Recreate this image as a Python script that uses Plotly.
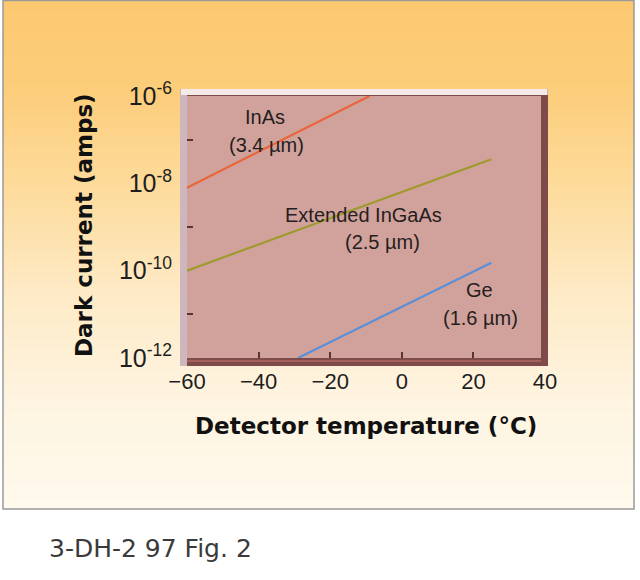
import plotly.graph_objects as go

# ---- data ----
inas_temp = [-60, -9]
inas_current = [10**-8.1, 10**-6.0]
ingaas_temp = [-60, 25]
ingaas_current = [10**-10.0, 10**-7.45]
ge_temp = [-29, 25]
ge_current = [10**-12.0, 10**-9.82]

x_ticks = [-60, -40, -20, 0, 20, 40]
y_ticks = [1e-12, 1e-10, 1e-8, 1e-6]
y_ticktext = ["10<sup>-12</sup>", "10<sup>-10</sup>", "10<sup>-8</sup>", "10<sup>-6</sup>"]
y_minor = [1e-11, 1e-9, 1e-7]

W, H = 640, 580
def px(x):
    return x / W
def py(y):
    return 1 - y / H

fig = go.Figure()
fig.add_trace(go.Scatter(x=inas_temp, y=inas_current, mode="lines",
                         line=dict(color="#E8663C", width=2.2), showlegend=False))
fig.add_trace(go.Scatter(x=ingaas_temp, y=ingaas_current, mode="lines",
                         line=dict(color="#9E9A2C", width=2.2), showlegend=False))
fig.add_trace(go.Scatter(x=ge_temp, y=ge_current, mode="lines",
                         line=dict(color="#5B8FD8", width=2.2), showlegend=False))

shapes = []
# background gradient inside the frame
stops = [(0, (252, 201, 112)), (90, (252, 205, 122)), (200, (253, 221, 160)),
         (300, (254, 235, 200)), (400, (254, 244, 224)), (510, (255, 250, 238))]
def col_at(y):
    for (y0, c0), (y1, c1) in zip(stops[:-1], stops[1:]):
        if y0 <= y <= y1:
            t = (y - y0) / (y1 - y0)
            return "rgb(%d,%d,%d)" % tuple(round(a + (b - a) * t) for a, b in zip(c0, c1))
    return "rgb(%d,%d,%d)" % stops[-1][1]
step = 4
for y in range(0, 509, step):
    shapes.append(dict(type="rect", xref="paper", yref="paper", layer="below",
                       x0=px(3), x1=px(634), y0=py(y), y1=py(min(y + step + 0.5, 509)),
                       line=dict(width=0), fillcolor=col_at(y + step / 2)))
# frame border
shapes.append(dict(type="rect", xref="paper", yref="paper", layer="below",
                   x0=px(3), x1=px(634), y0=py(0.5), y1=py(509),
                   line=dict(color="#9A9A9A", width=1.5), fillcolor="rgba(0,0,0,0)"))
# plot box with bevel
def rect(x0, x1, y0, y1, color):
    shapes.append(dict(type="rect", xref="paper", yref="paper", layer="below",
                       x0=px(x0), x1=px(x1), y0=py(y1), y1=py(y0),
                       line=dict(width=0), fillcolor=color))
rect(180, 548, 89, 366, "#CDB6BE")      # outer light bevel
rect(181, 547, 89, 95, "#F4EAE9")       # top highlight
rect(187, 548, 95, 366, "#7E4B4A")      # dark bevel right/bottom
rect(187, 541, 96, 358, "#D1A29B")      # plot interior
rect(187, 541, 360, 362, "#A5625C")     # lighter line in bottom bevel

annotations = []
ann_font = dict(family="Liberation Sans, Arial, sans-serif", size=20, color="#261E1E")
def label(text, x, ylog):
    annotations.append(dict(text=text, x=x, y=ylog, xref="x", yref="y",
                            xanchor="center", yanchor="middle",
                            showarrow=False, font=ann_font))
label("InAs", -38.2, -6.48)
label("(3.4 µm)", -37.7, -7.12)
label("Extended InGaAs", -10.6, -8.72)
label("(2.5 µm)", -5.3, -9.34)
label("Ge", 21.8, -10.44)
label("(1.6 µm)", 22.1, -11.08)

title_font = dict(family="DejaVu Sans, sans-serif", size=23, color="#111111", weight="bold")
annotations.append(dict(text="<b>Detector temperature (°C)</b>", x=px(366), y=py(426),
                        xanchor="center", yanchor="middle",
                        xref="paper", yref="paper", showarrow=False, font=title_font))
annotations.append(dict(text="<b>Dark current (amps)</b>", x=px(84), y=py(225),
                        xanchor="center", yanchor="middle",
                        xref="paper", yref="paper", showarrow=False, textangle=-90,
                        font=title_font))
annotations.append(dict(text="3-DH-2 97 Fig. 2", x=px(47), y=py(548),
                        xanchor="left", yanchor="middle",
                        xref="paper", yref="paper", showarrow=False,
                        font=dict(family="DejaVu Sans, sans-serif", size=25, color="#3A3A3A")))

xtick_font = dict(family="Liberation Sans, Arial, sans-serif", size=22, color="#1E1E1E")
ytick_font = dict(family="Liberation Sans, Arial, sans-serif", size=25, color="#1E1E1E")
fig.update_layout(
    width=W, height=H, autosize=False,
    margin=dict(l=0, r=0, t=0, b=0, pad=0, autoexpand=False),
    paper_bgcolor="white",
    plot_bgcolor="rgba(0,0,0,0)",
    shapes=shapes,
    annotations=annotations,
    xaxis=dict(domain=[px(187), px(545)], range=[-60, 40], tickvals=x_ticks,
               ticks="inside", ticklen=6, tickwidth=1.5, tickcolor="#5A3432",
               showgrid=False, zeroline=False, showline=False, automargin=False,
               tickfont=xtick_font, ticklabelstandoff=8),
    yaxis=dict(domain=[py(358), py(96)], type="log", range=[-12, -6],
               tickvals=y_ticks, ticktext=y_ticktext,
               ticks="", showgrid=False, zeroline=False, showline=False, automargin=False,
               tickfont=ytick_font, ticklabelstandoff=14,
               minor=dict(tickvals=y_minor, ticks="inside", ticklen=6,
                          tickwidth=1.5, tickcolor="#5A3432", showgrid=False)),
)

fig.write_html("out.html", config={"displayModeBar": False},
               post_script="document.body.style.margin='0';document.body.style.padding='0';")
